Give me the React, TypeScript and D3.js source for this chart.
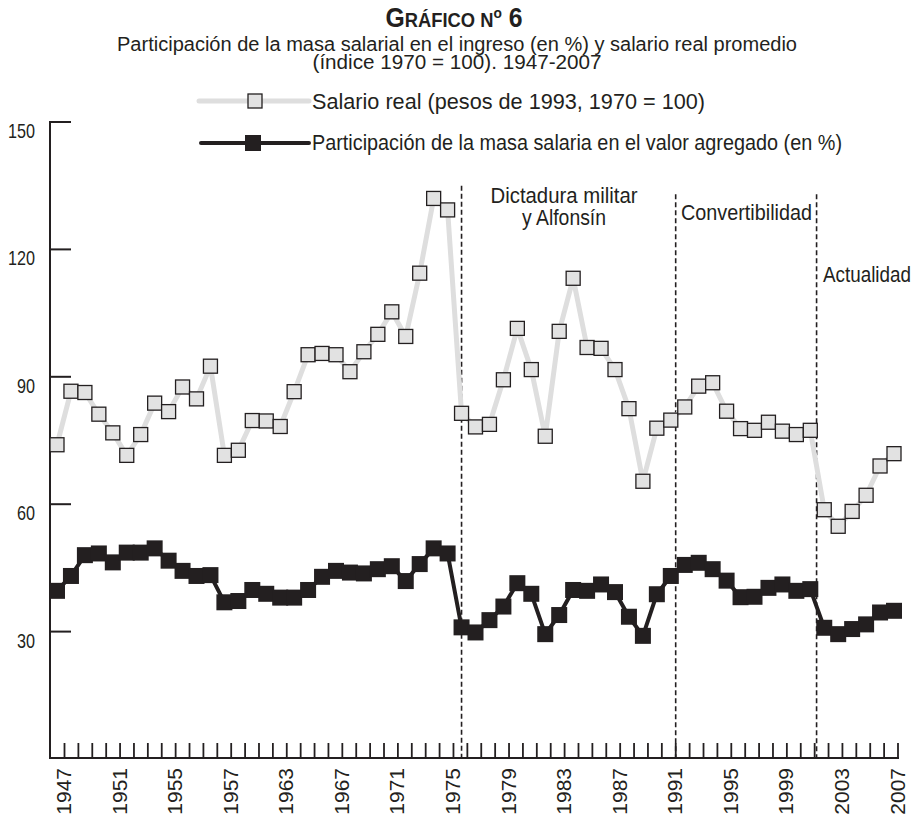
import * as d3 from "d3";

// ---------------------------------------------------------------------------
// Data
// ---------------------------------------------------------------------------

const YEARS = d3.range(1947, 2008);

// Salario real (pesos de 1993, 1970 = 100)
const SALARIO_REAL = [
  74.0, 86.6, 86.3, 81.2, 76.8, 71.5, 76.4, 83.8, 81.8, 87.6,
  84.8, 92.5, 71.5, 72.7, 79.7, 79.6, 78.3, 86.5, 95.2, 95.5,
  95.2, 91.2, 95.9, 100.0, 105.3, 99.5, 114.4, 132.0, 129.3, 81.4,
  78.2, 78.8, 89.3, 101.4, 91.7, 76.0, 100.7, 113.2, 96.9, 96.7,
  91.7, 82.5, 65.4, 77.9, 79.8, 82.9, 87.8, 88.6, 81.9, 77.8,
  77.4, 79.3, 77.2, 76.4, 77.4, 58.7, 54.8, 58.3, 62.1, 69.0,
  71.9,
];

// Participación de la masa salarial en el valor agregado (%)
const PARTICIPACION = [
  39.6, 43.1, 48.0, 48.4, 46.3, 48.6, 48.6, 49.6, 46.7, 44.3,
  43.1, 43.3, 36.9, 37.2, 39.8, 38.9, 38.0, 38.0, 39.8, 42.9,
  44.3, 43.9, 43.7, 44.7, 45.4, 41.9, 45.9, 49.6, 48.4, 31.0,
  29.8, 32.7, 35.9, 41.4, 38.9, 29.4, 33.9, 39.8, 39.6, 41.1,
  39.3, 33.5, 29.0, 38.8, 43.1, 45.7, 46.2, 44.7, 42.0, 38.1,
  38.2, 40.3, 41.1, 39.6, 40.0, 30.9, 29.4, 30.6, 31.7, 34.5,
  34.9,
];

const Y_TICKS = [30, 60, 90, 120, 150];

// labels as printed (the fourth one reads "1957" in the original)
const X_TICK_YEARS = [1947, 1951, 1955, 1959, 1963, 1967, 1971, 1975, 1979, 1983, 1987, 1991, 1995, 1999, 2003, 2007];
const X_TICK_LABELS = ["1947", "1951", "1955", "1957", "1963", "1967", "1971", "1975", "1979", "1983", "1987", "1991", "1995", "1999", "2003", "2007"];

// period separators (year position) and how high they reach (y units)
const PERIOD_BREAKS = [1976.0, 1991.35, 2001.45];
const PERIOD_TOPS = [135, 133, 133];
const PERIOD_NAMES = [["Dictadura militar", "y Alfonsín"], ["Convertibilidad"], ["Actualidad"]];

const LEGEND = [
  "Salario real (pesos de 1993, 1970 = 100)",
  "Participación de la masa salaria en el valor agregado (en %)",
];

// ---------------------------------------------------------------------------
// Style
// ---------------------------------------------------------------------------

const INK = "#231f20";
const LIGHT_LINE = "#dedede";
const LIGHT_FILL = "#e2e2e2";
const SANS = '"Liberation Sans", Arial, sans-serif';

const W = 915;
const H = 814;

// the original uses a condensed face; squeeze regular glyphs to its widths
function Narrow(props: any) {
  const { width, children, ...rest } = props;
  return (
    <text fontFamily={SANS} fill={INK} textLength={width} lengthAdjust="spacingAndGlyphs" {...rest}>
      {children}
    </text>
  );
}

export default function App() {
  const x = d3.scaleLinear().domain([1947, 2007]).range([57, 894]);
  const xTick = d3.scaleLinear().domain([1947, 2007]).range([64.5, 898]);
  const y = d3.scaleLinear().domain([0, 150]).range([759, 122]);

  const line = d3
    .line<number>()
    .x((_, i) => x(YEARS[i]))
    .y((d) => y(d));

  const grayPts = SALARIO_REAL.map((v, i) => [x(YEARS[i]), y(v)]);
  const blackPts = PARTICIPACION.map((v, i) => [x(YEARS[i]), y(v)]);

  const axisY = 758;
  const axisX = 50;

  return (
    <div style={{ position: "absolute", left: 0, top: 0 }}>
      <svg width={W} height={H} style={{ display: "block", background: "#fff" }}>
        {/* Title */}
        <Narrow x={454} y={27} width={137} textAnchor="middle" fontWeight={700}>
          <tspan fontSize={27}>G</tspan>
          <tspan fontSize={20}>RÁFICO N</tspan>
          <tspan fontSize={15} dy={-9}>o</tspan>
          <tspan fontSize={27} dy={9}> 6</tspan>
        </Narrow>
        <Narrow x={457} y={51} width={680} textAnchor="middle" fontSize={20}>
          Participación de la masa salarial en el ingreso (en %) y salario real promedio
        </Narrow>
        <Narrow x={457} y={69} width={289} textAnchor="middle" fontSize={20}>
          (índice 1970 = 100). 1947-2007
        </Narrow>

        {/* Legend */}
        <line x1={199} x2={309} y1={101} y2={101} stroke={LIGHT_LINE} strokeWidth={5} strokeLinecap="round" />
        <rect x={248} y={94} width={14} height={14} fill={LIGHT_FILL} stroke={INK} strokeWidth={1.3} />
        <Narrow x={312} y={109} width={393} fontSize={22.5}>{LEGEND[0]}</Narrow>

        <line x1={201} x2={309} y1={143} y2={143} stroke={INK} strokeWidth={4} strokeLinecap="round" />
        <rect x={245} y={135} width={16} height={16} fill={INK} />
        <Narrow x={312} y={150} width={530} fontSize={22.5}>{LEGEND[1]}</Narrow>

        {/* Y axis */}
        <line x1={axisX} x2={axisX} y1={y(150) - 1} y2={axisY + 1} stroke={INK} strokeWidth={2} />
        {Y_TICKS.map((t) => (
          <g key={t}>
            <line x1={axisX} x2={71} y1={y(t)} y2={y(t)} stroke={INK} strokeWidth={2} />
            <Narrow x={35} y={y(t) + 16} width={String(t).length * 9} textAnchor="end" fontSize={21}>
              {t}
            </Narrow>
          </g>
        ))}

        {/* X axis */}
        <line x1={axisX - 1} x2={xTick(2007) + 1} y1={axisY} y2={axisY} stroke={INK} strokeWidth={2} />
        {YEARS.map((yr) => (
          <line key={yr} x1={xTick(yr)} x2={xTick(yr)} y1={axisY} y2={axisY - 15} stroke={INK} strokeWidth={1.8} />
        ))}
        {X_TICK_YEARS.map((yr, i) => (
          <text
            key={yr}
            transform={`translate(${xTick(yr) - 1},${axisY + 10}) rotate(-90)`}
            textAnchor="end"
            dy="0.36em"
            fontFamily={SANS}
            fontSize={21}
            fill={INK}
          >
            {X_TICK_LABELS[i]}
          </text>
        ))}

        {/* Period separators */}
        {PERIOD_BREAKS.map((b, i) => (
          <line
            key={b}
            x1={x(b)}
            x2={x(b)}
            y1={y(PERIOD_TOPS[i])}
            y2={axisY}
            stroke={INK}
            strokeWidth={1.6}
            strokeDasharray="5,3"
          />
        ))}
        <Narrow x={564} y={203} width={147} textAnchor="middle" fontSize={22.5}>
          {PERIOD_NAMES[0][0]}
        </Narrow>
        <Narrow x={564} y={225} width={84} textAnchor="middle" fontSize={22.5}>
          {PERIOD_NAMES[0][1]}
        </Narrow>
        <Narrow x={681} y={220} width={131} fontSize={22.5}>
          {PERIOD_NAMES[1][0]}
        </Narrow>
        <Narrow x={823} y={282} width={88} fontSize={22.5}>
          {PERIOD_NAMES[2][0]}
        </Narrow>

        {/* Salario real */}
        <path d={line(SALARIO_REAL) ?? ""} fill="none" stroke={LIGHT_LINE} strokeWidth={5} strokeLinejoin="round" />
        {grayPts.map(([px, py], i) => (
          <rect
            key={i}
            x={px - 7}
            y={py - 7}
            width={14}
            height={14}
            fill={LIGHT_FILL}
            stroke={INK}
            strokeWidth={1.3}
          />
        ))}

        {/* Participación */}
        <path d={line(PARTICIPACION) ?? ""} fill="none" stroke={INK} strokeWidth={4} strokeLinejoin="round" />
        {blackPts.map(([px, py], i) => (
          <rect key={i} x={px - 8} y={py - 8} width={16} height={16} fill={INK} />
        ))}
      </svg>
    </div>
  );
}
